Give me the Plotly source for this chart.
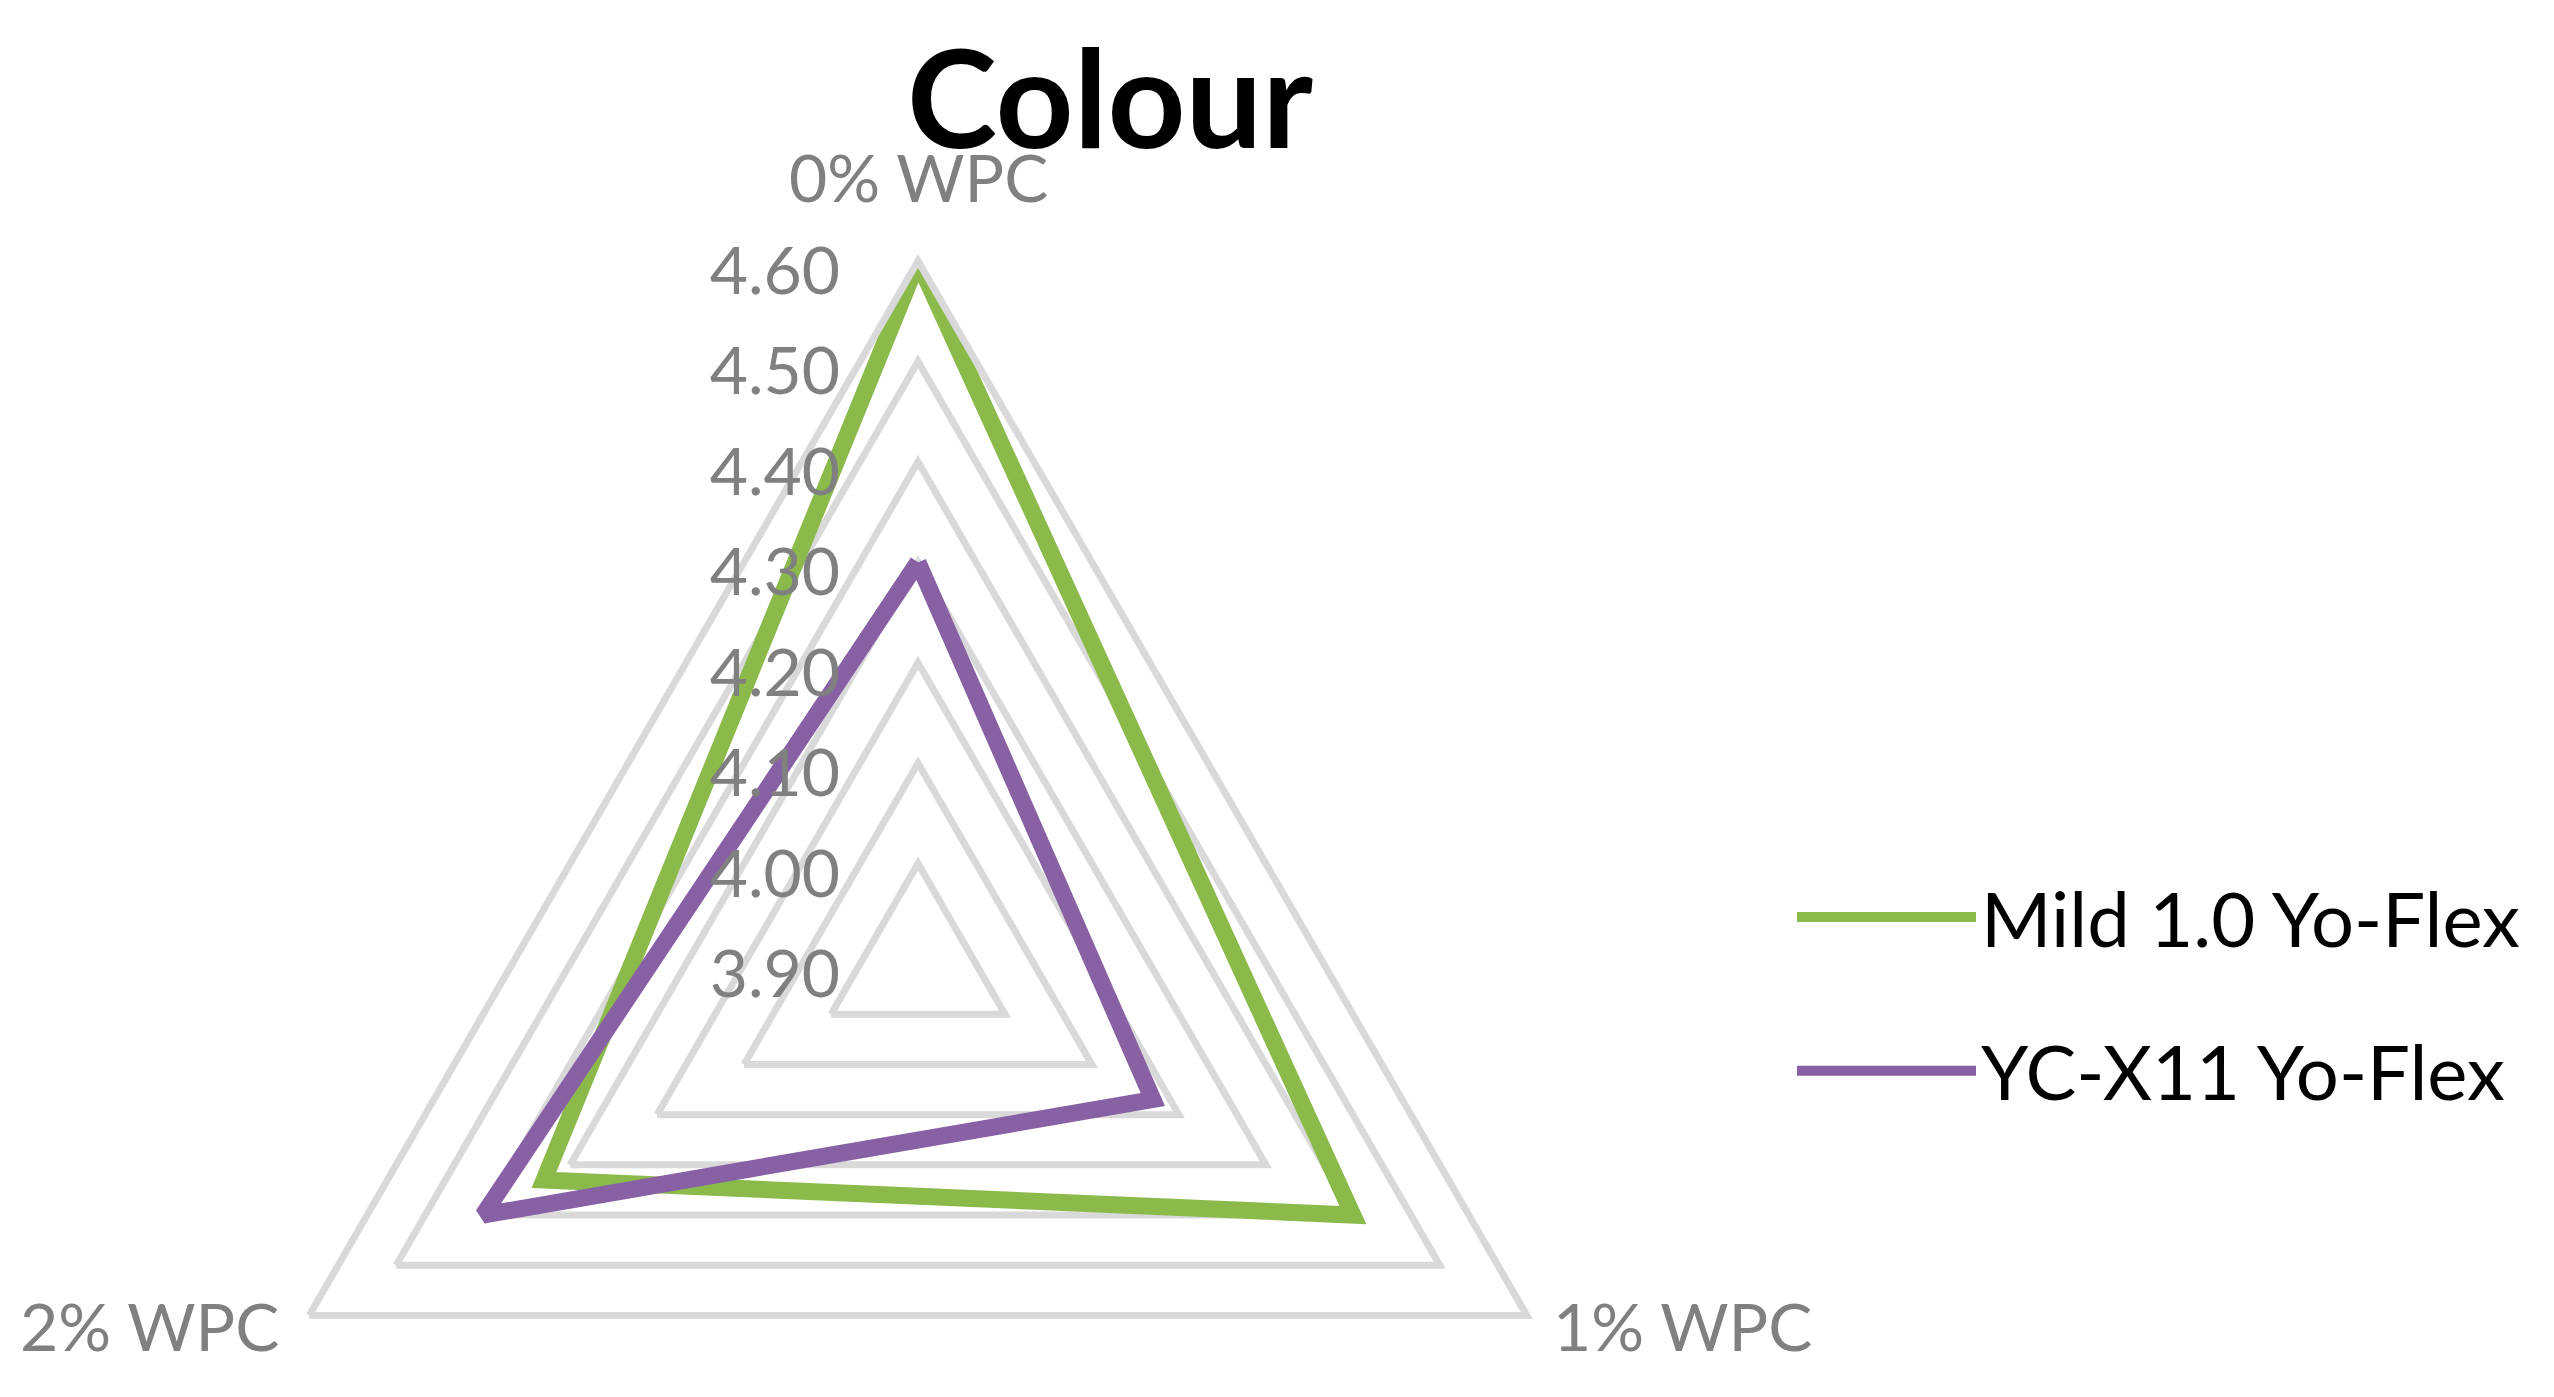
import plotly.graph_objects as go

# data
categories = ["0% WPC", "1% WPC", "2% WPC"]
series_names = ["Mild 1.0 Yo-Flex", "YC-X11 Yo-Flex"]
mild_values = [4.60, 4.40, 4.33]
ycx11_values = [4.30, 4.17, 4.40]
radial_ticks = [3.90, 4.00, 4.10, 4.20, 4.30, 4.40, 4.50, 4.60]

colors = ["#8BBA4B", "#8761A4"]
grey = "#808080"

# the triangle sits low in the chart, so the polar circle runs past the bottom
# of the window; the figure is made taller and only its top part is seen
W, H = 2554, 1700
cx, cy, R = 910, 956, 703

fig = go.Figure()
for name, vals, color in zip(series_names, [mild_values, ycx11_values], colors):
    fig.add_trace(go.Scatterpolar(
        r=vals + vals[:1],
        theta=categories + categories[:1],
        mode="lines",
        name=name,
        legendgroup=name,
        line=dict(color=color, width=17),
        hovertemplate="%{theta}: %{r:.2f}<extra>" + name + "</extra>",
    ))

# category labels placed round the outer triangle
cos30 = 0.866
label_pos = [
    dict(x=cx, y=cy - R - 85, xanchor="center"),
    dict(x=cx + R * cos30 + 24, y=cy + R / 2 + 10, xanchor="left"),
    dict(x=cx - R * cos30 - 28, y=cy + R / 2 + 10, xanchor="right"),
]
annotations = []
for cat, pos in zip(categories, label_pos):
    annotations.append(dict(
        text=cat, xref="paper", yref="paper",
        x=pos["x"] / W, y=(H - pos["y"]) / H,
        xanchor=pos["xanchor"], yanchor="middle",
        showarrow=False,
        font=dict(family="Lato, sans-serif", size=66, color=grey),
    ))

fig.update_layout(
    width=W,
    height=H,
    margin=dict(l=0, r=0, t=0, b=0),
    paper_bgcolor="white",
    font=dict(family="Lato, sans-serif", color=grey),
    title=dict(
        text="<b>Colour</b>",
        x=1102 / W, xanchor="center",
        y=(H - 92) / H, yanchor="middle",
        font=dict(family="Lato, sans-serif", size=136, color="black"),
    ),
    annotations=annotations,
    polar=dict(
        domain=dict(x=[(cx - R) / W, (cx + R) / W], y=[(H - cy - R) / H, (H - cy + R) / H]),
        gridshape="linear",
        bgcolor="white",
        radialaxis=dict(
            range=[3.9, 4.6],
            tickvals=radial_ticks,
            tickformat=".2f",
            angle=90,
            side="counterclockwise",
            showline=False,
            gridcolor="#D9D9D9",
            gridwidth=7,
            ticks="outside",
            ticklen=18,
            tickcolor="rgba(0,0,0,0)",
            tickfont=dict(family="Lato, sans-serif", size=66, color=grey),
            layer="above traces",
        ),
        angularaxis=dict(
            direction="clockwise",
            rotation=90,
            showgrid=False,
            showline=True,
            linecolor="#D9D9D9",
            linewidth=7,
            ticks="",
            showticklabels=False,
        ),
    ),
    showlegend=True,
    legend=dict(
        x=1784 / W, xanchor="left",
        y=(H - 986) / H, yanchor="middle",
        font=dict(family="Lato, sans-serif", size=76, color="black"),
        tracegroupgap=52,
        itemwidth=179,
        bgcolor="rgba(0,0,0,0)",
    ),
)

fig.write_html("out.html")
